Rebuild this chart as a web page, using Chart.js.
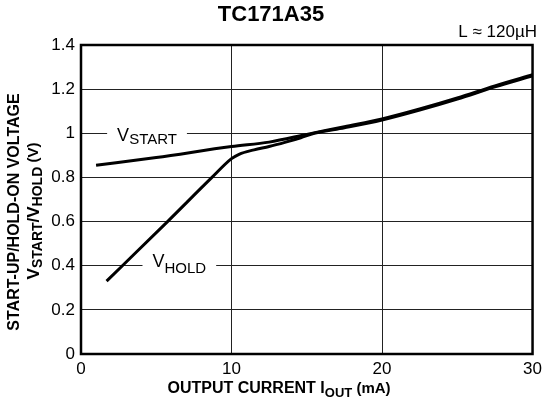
<!DOCTYPE html>
<html><head><meta charset="utf-8">
<script src="https://cdn.jsdelivr.net/npm/chart.js@4"></script>
<style>html,body{margin:0;padding:0;background:#fff}#wrap{width:547px;height:406px}</style>
</head><body><div id="wrap"><canvas id="c" width="547" height="406"></canvas></div>
<script>
const titleText = "TC171A35";
const noteText = "L \u2248 120\u00B5H";
const xTicks = [0, 10, 20, 30];
const yTicks = [0, 0.2, 0.4, 0.6, 0.8, 1, 1.2, 1.4];
const startCurrent = [1, 5, 10, 12.5, 15, 17.5, 20, 22.5, 25, 27.5, 30];
const startVoltage = [0.855, 0.89, 0.94, 0.96, 0.995, 1.03, 1.065, 1.11, 1.16, 1.215, 1.265];
const holdCurrent = [1.7, 2.75, 5.75, 8.7, 10, 10.5, 11.5, 12.5, 13.6, 14.6, 15.5, 17.5, 20, 22.5, 25, 27.5, 30];
const holdVoltage = [0.33, 0.4, 0.6, 0.8, 0.885, 0.905, 0.925, 0.94, 0.96, 0.98, 1.0, 1.025, 1.06, 1.105, 1.155, 1.21, 1.26];
const labelStart = {x: 2.4, y: 1.0, main: "V", sub: "START"};
const labelHold = {x: 4.75, y: 0.4, main: "V", sub: "HOLD"};

const FF = "'Liberation Sans', Arial, Helvetica, sans-serif";
const toPts = (xs, ys) => xs.map((x, i) => ({x, y: ys[i]}));

function segWidth(ctx, segs) {
  let w = 0;
  for (const s of segs) { ctx.font = s.font; w += ctx.measureText(s.t).width; }
  return w;
}
function drawSegs(ctx, segs, x, y) {
  let cx = x;
  ctx.textAlign = 'left';
  ctx.textBaseline = 'middle';
  for (const s of segs) {
    ctx.font = s.font;
    ctx.fillText(s.t, cx, y + (s.dy || 0));
    cx += ctx.measureText(s.t).width;
  }
  return cx;
}
const inPlot = [
  {L: labelStart, dy: 3, subDy: 4},
  {L: labelHold, dy: -4, subDy: 7}
];
function labelSegs(L, subDy) {
  return [{t: L.main, font: '18px ' + FF}, {t: L.sub, font: '15px ' + FF, dy: subDy}];
}

const deco = {
  id: 'deco',
  beforeDatasetsDraw(chart) {
    const {ctx, chartArea: a, scales} = chart;
    ctx.save();
    ctx.fillStyle = '#fff';
    for (const p of inPlot) {
      const px = scales.x.getPixelForValue(p.L.x), py = scales.y.getPixelForValue(p.L.y);
      const w = segWidth(ctx, labelSegs(p.L, p.subDy));
      ctx.fillRect(px - 10, py - 3, w + 20, 6);
    }
    ctx.strokeStyle = '#000';
    ctx.lineWidth = 2.5;
    ctx.strokeRect(a.left, a.top, a.right - a.left, a.bottom - a.top);
    ctx.restore();
  },
  afterDraw(chart) {
    const {ctx, scales} = chart;
    ctx.save();
    ctx.fillStyle = '#000';
    ctx.font = 'bold 22px ' + FF;
    ctx.textAlign = 'center';
    ctx.textBaseline = 'middle';
    ctx.fillText(titleText, 271, 15);
    ctx.font = '17px ' + FF;
    ctx.textAlign = 'right';
    ctx.fillText(noteText, 537, 32);
    for (const p of inPlot) {
      const px = scales.x.getPixelForValue(p.L.x), py = scales.y.getPixelForValue(p.L.y);
      drawSegs(ctx, labelSegs(p.L, p.subDy), px, py + p.dy);
    }
    const xs = [{t: 'OUTPUT CURRENT I', font: 'bold 16px ' + FF}, {t: 'OUT', font: 'bold 13px ' + FF, dy: 4}, {t: ' (mA)', font: 'bold 15px ' + FF}];
    const xw = segWidth(ctx, xs);
    drawSegs(ctx, xs, 279 - xw / 2, 389);
    const y1 = [{t: 'START-UP/HOLD-ON VOLTAGE', font: 'bold 16px ' + FF}];
    const y2 = [{t: 'V', font: 'bold 17px ' + FF}, {t: 'START', font: 'bold 14px ' + FF, dy: 4}, {t: '/V', font: 'bold 17px ' + FF}, {t: 'HOLD', font: 'bold 14px ' + FF, dy: 4}, {t: ' (V)', font: 'bold 15px ' + FF}];
    ctx.save();
    ctx.translate(15, 212);
    ctx.rotate(-Math.PI / 2);
    drawSegs(ctx, y1, -segWidth(ctx, y1) / 2, 0);
    ctx.restore();
    ctx.save();
    ctx.translate(34, 211);
    ctx.rotate(-Math.PI / 2);
    drawSegs(ctx, y2, -segWidth(ctx, y2) / 2, 0);
    ctx.restore();
    ctx.restore();
  }
};

new Chart(document.getElementById('c'), {
  type: 'scatter',
  data: {
    datasets: [
      {label: 'VSTART', data: toPts(startCurrent, startVoltage), showLine: true, borderColor: '#000', borderWidth: 3, pointRadius: 0, cubicInterpolationMode: 'monotone'},
      {label: 'VHOLD', data: toPts(holdCurrent, holdVoltage), showLine: true, borderColor: '#000', borderWidth: 3, pointRadius: 0, cubicInterpolationMode: 'monotone'}
    ]
  },
  options: {
    responsive: false,
    animation: false,
    devicePixelRatio: 1,
    layout: {padding: {top: 45, right: 11, left: 0, bottom: 0}},
    plugins: {legend: {display: false}, tooltip: {enabled: false}, title: {display: false}},
    scales: {
      x: {
        type: 'linear', min: 0, max: 30,
        afterBuildTicks: s => { s.ticks = xTicks.map(v => ({value: v})); },
        afterFit: s => { s.height = 52; },
        grid: {color: '#222', lineWidth: 1, drawTicks: false},
        border: {display: false},
        ticks: {color: '#000', font: {family: FF, size: 17}, padding: 5, maxRotation: 0, callback: v => String(v)}
      },
      y: {
        type: 'linear', min: 0, max: 1.4,
        afterBuildTicks: s => { s.ticks = yTicks.map(v => ({value: v})); },
        afterFit: s => { s.width = 81; },
        grid: {color: '#222', lineWidth: 1, drawTicks: false},
        border: {display: false},
        ticks: {color: '#000', font: {family: FF, size: 17}, padding: 6, callback: v => String(Math.round(v * 10) / 10)}
      }
    }
  },
  plugins: [deco]
});
</script></body></html>
